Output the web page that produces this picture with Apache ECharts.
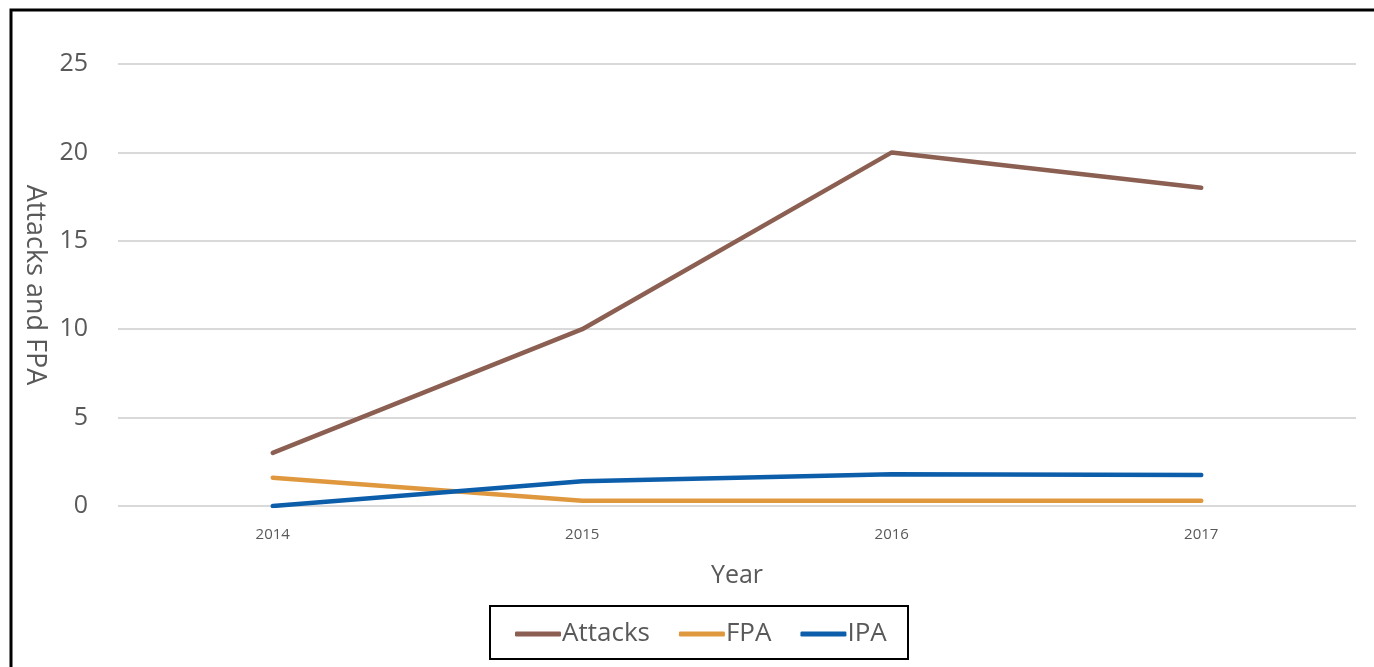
<!DOCTYPE html>
<html>
<head>
<meta charset="utf-8">
<script src="https://cdn.jsdelivr.net/npm/echarts@6/dist/echarts.min.js"></script>
<style>
html, body { margin: 0; padding: 0; background: #fff; }
#main { width: 1374px; height: 667px; }
</style>
</head>
<body>
<div id="main"></div>
<script>
// data
var years = ['2014', '2015', '2016', '2017'];
var attacks = [3, 10, 20, 18];
var fpa = [1.6, 0.3, 0.3, 0.3];
var ipa = [0, 1.4, 1.8, 1.75];

var chart = echarts.init(document.getElementById('main'));
var font = '"Open Sans", "Liberation Sans", sans-serif';

function lineSeries(name, data, color) {
	return {
		name: name,
		type: 'line',
		data: data,
		symbol: 'none',
		lineStyle: { color: color, width: 4.5, cap: 'round' },
		itemStyle: { color: color }
	};
}

var option = {
	animation: false,
	textStyle: { fontFamily: font },
	grid: { left: 118, right: 18, top: 64, bottom: 161 },
	graphic: [
		{ // outer frame, cut off at right and bottom
			type: 'rect',
			shape: { x: 11, y: 10, width: 1400, height: 700 },
			style: { fill: 'none', stroke: '#000', lineWidth: 3 }
		},
		{ // legend box
			type: 'rect',
			shape: { x: 490, y: 606, width: 418, height: 53 },
			style: { fill: 'none', stroke: '#000', lineWidth: 2 }
		}
	],
	legend: {
		left: 510,
		top: 616,
		itemWidth: 46,
		itemHeight: 5,
		itemGap: 29,
		icon: 'roundRect',
		textStyle: { fontSize: 26, color: '#595959', fontFamily: font, padding: [0, 0, 0, -4] },
		data: ['Attacks', 'FPA', 'IPA']
	},
	xAxis: {
		type: 'category',
		data: years,
		boundaryGap: true,
		name: 'Year',
		nameLocation: 'middle',
		nameGap: 57,
		nameTextStyle: { fontSize: 25, color: '#595959' },
		axisLine: { show: false },
		axisTick: { show: false },
		axisLabel: { fontSize: 15, color: '#595959', margin: 21 }
	},
	yAxis: {
		type: 'value',
		min: 0,
		max: 25,
		interval: 5,
		name: 'Attacks and FPA',
		nameLocation: 'middle',
		nameRotate: -90,
		nameGap: 67,
		nameTextStyle: { fontSize: 27, color: '#595959' },
		axisLine: { show: false },
		axisTick: { show: false },
		axisLabel: { fontSize: 25, color: '#595959', margin: 30 },
		splitLine: { lineStyle: { color: '#d9d9d9', width: 2 } }
	},
	series: [
		lineSeries('Attacks', attacks, '#8b5f51'),
		lineSeries('FPA', fpa, '#e0983f'),
		lineSeries('IPA', ipa, '#0c5eab')
	]
};
chart.setOption(option);
</script>
</body>
</html>
